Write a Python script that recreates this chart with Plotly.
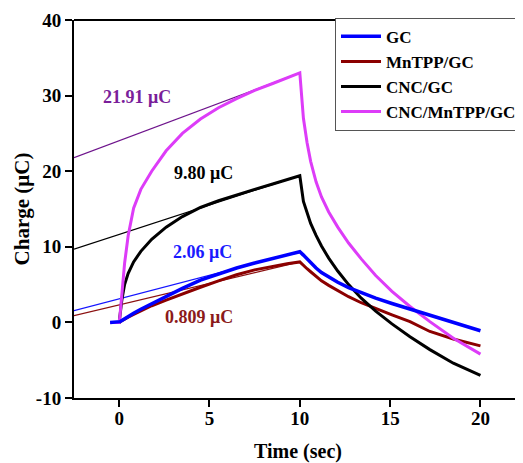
import plotly.graph_objects as go

# ---- data ----
time_s = [-0.5, 0, 0.05, 0.15, 0.3, 0.5, 0.8, 1.2, 1.8, 2.6, 3.5, 4.5, 5.5, 6.5, 7.5, 8.5, 9.3, 10,
          10.2, 10.4, 10.6, 10.9, 11.2, 11.6, 12.1, 12.7, 13.4, 14.2, 15.1, 16.1, 17.2, 18.5, 20]

gc = [0, 0, 0.1, 0.25, 0.5, 0.8, 1.2, 1.75, 2.5, 3.4, 4.5, 5.6, 6.45, 7.2, 7.85, 8.45, 8.95, 9.35,
      8.9, 8.4, 7.9, 7.2, 6.6, 6.0, 5.3, 4.6, 3.9, 3.2, 2.5, 1.75, 0.95, 0.0, -1.1]
mntpp_gc = [0, 0, 0.1, 0.25, 0.45, 0.7, 1.05, 1.5, 2.2, 2.95, 3.8, 4.65, 5.5, 6.3, 6.95, 7.45, 7.75, 8.0,
            7.5, 7.1, 6.7, 6.1, 5.5, 4.9, 4.2, 3.4, 2.6, 1.8, 1.0, 0.1, -1.2, -2.2, -3.1]
cnc_gc = [0, 0, 1.0, 3.0, 5.0, 6.5, 8.0, 9.4, 11.0, 12.6, 14.0, 15.2, 16.1, 16.9, 17.6, 18.3, 18.9, 19.4,
          16.0, 14.4, 13.1, 11.5, 10.1, 8.5, 6.8, 5.0, 3.2, 1.5, -0.2, -1.9, -3.6, -5.4, -7.0]
cnc_mntpp_gc = [0, 0, 1.0, 4.0, 7.8, 11.5, 15.1, 17.6, 20.0, 22.7, 25.0, 26.9, 28.4, 29.6, 30.7, 31.6, 32.35, 33.0,
                27.0, 23.8, 21.3, 18.6, 16.6, 14.6, 12.6, 10.5, 8.4, 6.2, 4.1, 2.1, 0.1, -2.1, -4.2]

# linear fit lines (start at y-axis, end at t = 10)
fit_t = [-2.5, 10]
fit_gc = [1.55, 9.35]
fit_mntpp_gc = [0.89, 8.0]
fit_cnc_gc = [9.7, 19.4]
fit_cnc_mntpp_gc = [21.8, 33.0]

series_names = ["GC", "MnTPP/GC", "CNC/GC", "CNC/MnTPP/GC"]
charge_labels = ["2.06 μC", "0.809 μC", "9.80 μC", "21.91 μC"]
label_t = [4.6, 4.4, 4.65, 1.0]
label_q = [9.3, 0.7, 19.8, 29.8]

x_ticks = [0, 5, 10, 15, 20]
y_ticks = [-10, 0, 10, 20, 30, 40]
y_tick_text = ["-10", "0", "10", "20", "30", "40"]

# ---- styles ----
FONT = "Liberation Serif, Times New Roman, serif"
curve_colors = {"GC": "#0000FF", "MnTPP/GC": "#8B0000", "CNC/GC": "#000000", "CNC/MnTPP/GC": "#DD3CF8"}
fit_colors = {"GC": "#1515FF", "MnTPP/GC": "#8B1010", "CNC/GC": "#000000", "CNC/MnTPP/GC": "#6E148C"}
label_colors = {"GC": "#1A1AFF", "MnTPP/GC": "#8B1A1A", "CNC/GC": "#000000", "CNC/MnTPP/GC": "#7A1E9A"}

curves = {"GC": gc, "MnTPP/GC": mntpp_gc, "CNC/GC": cnc_gc, "CNC/MnTPP/GC": cnc_mntpp_gc}
fits = {"GC": fit_gc, "MnTPP/GC": fit_mntpp_gc, "CNC/GC": fit_cnc_gc, "CNC/MnTPP/GC": fit_cnc_mntpp_gc}

fig = go.Figure()

for name in ["CNC/MnTPP/GC", "CNC/GC", "MnTPP/GC", "GC"]:
    fig.add_trace(go.Scatter(x=fit_t, y=fits[name], mode="lines", showlegend=False,
                             line=dict(color=fit_colors[name], width=1.2), hoverinfo="skip"))

draw_order = ["MnTPP/GC", "CNC/GC", "CNC/MnTPP/GC", "GC"]
for name in draw_order:
    fig.add_trace(go.Scatter(x=time_s, y=curves[name], mode="lines", name=name,
                             legendrank=series_names.index(name) + 1,
                             line=dict(color=curve_colors[name], width=3.5 if name == "GC" else 3)))

for name, txt, tx, ty in zip(series_names, charge_labels, label_t, label_q):
    fig.add_annotation(x=tx, y=ty, xref="x", yref="y", text=txt, showarrow=False,
                       font=dict(family=FONT, size=18, color=label_colors[name], weight="bold"))

axis_common = dict(showgrid=False, zeroline=False, showline=True, linecolor="black", linewidth=2,
                   ticks="outside", ticklen=7, tickwidth=2, tickcolor="black",
                   tickfont=dict(family=FONT, size=19, color="black", weight="bold"))

fig.update_xaxes(range=[-2.5, 22.3], tickvals=x_ticks, ticklabelstandoff=-5,
                 title=dict(text="Time (sec)", font=dict(family=FONT, size=20, color="black", weight="bold"),
                            standoff=17),
                 **axis_common)
fig.update_yaxes(range=[-10, 40], tickvals=y_ticks, ticktext=y_tick_text,
                 title=dict(text="Charge (μC)", font=dict(family=FONT, size=21, color="black", weight="bold"),
                            standoff=1),
                 **axis_common)

fig.add_shape(type="line", xref="paper", yref="paper", x0=0, x1=1, y0=1, y1=1,
              line=dict(color="black", width=2))

# the page body adds an 8px margin, so the figure is 8px smaller than the window
fig.update_layout(
    width=515, height=455,
    margin=dict(l=66, r=1, t=12, b=65),
    plot_bgcolor="white", paper_bgcolor="white",
    legend=dict(x=1.0, y=1.006, xanchor="right", yanchor="top",
                bgcolor="white", bordercolor="#555555", borderwidth=1,
                font=dict(family=FONT, size=17, color="black", weight="bold"),
                tracegroupgap=0, itemwidth=40),
    showlegend=True,
)

fig.write_html("out.html")
